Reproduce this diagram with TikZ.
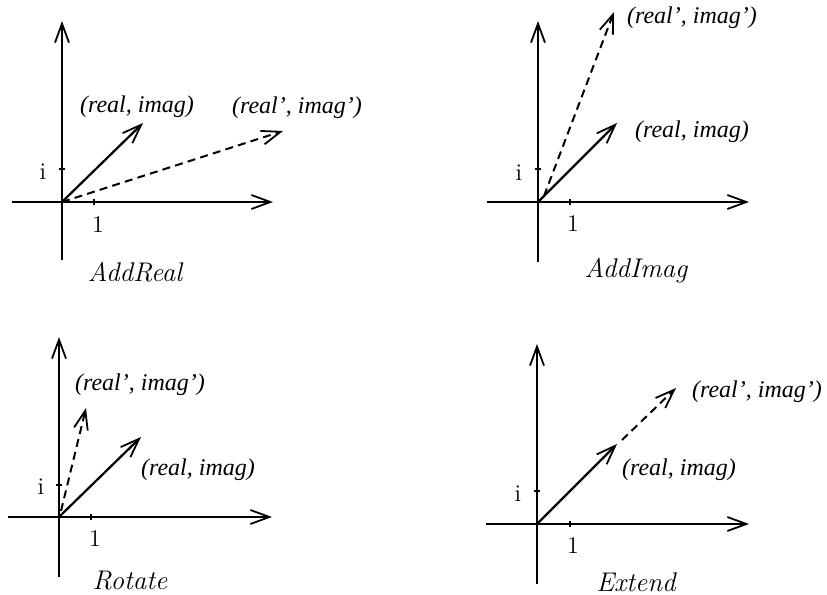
\documentclass[tikz,border=0pt]{standalone}
\usepackage{fontspec}
\newfontfamily\labfont{Liberation Serif}
\usetikzlibrary{arrows.meta}
\begin{document}
\begin{tikzpicture}[x=0.5pt,y=-0.5pt,
  tipbarb/.style={-{Straight Barb[length=9.5pt,width=7pt,line width=0.9pt]}},
  axis/.style={line width=0.95pt,tipbarb},
  vec/.style={line width=1.1pt,tipbarb},
  dvec/.style={line width=1pt,dash pattern=on 4pt off 2.6pt,tipbarb},
  tickmark/.style={line width=0.9pt},
  lab/.style={font=\labfont\itshape\fontsize{12}{14}\selectfont,inner sep=0pt},
  captext/.style={font=\itshape\fontsize{13.5}{16}\selectfont,inner sep=0pt},
  num/.style={font=\fontsize{12}{14}\selectfont,inner sep=0pt}]
\useasboundingbox (0,0) rectangle (827,595);

% ---------- Panel 1: AddReal ----------
\coordinate (o1) at (62,202);
\coordinate (x1l) at (12,202); \coordinate (x1r) at (273,202);
\coordinate (y1b) at (62,260); \coordinate (y1t) at (62,21);
\coordinate (ti1) at (62,169); \coordinate (tr1) at (94,202);
\coordinate (s1) at (143,123); \coordinate (d1) at (283,131);
\draw[axis] (x1l) -- (x1r);
\draw[axis] (y1b) -- (y1t);
\draw[tickmark] (ti1) +(-3,0) -- +(3,0);
\draw[tickmark] (tr1) +(0,-3) -- +(0,3);
\draw[vec] (o1) -- (s1);
\draw[dvec] (o1) -- (d1);
\node[lab] (l1a) at (137,107) {(real, imag)};
\node[lab] (l1b) at (297,108) {(real’, imag’)};
\node[num] (i1) at (43,172) {i};
\node[num] (n1) at (98,225) {1};
\node[captext] (c1) at (135,272) {AddReal};

% ---------- Panel 2: AddImag ----------
\coordinate (o2) at (538,202);
\coordinate (x2l) at (487,202); \coordinate (x2r) at (749,202);
\coordinate (y2b) at (538,262); \coordinate (y2t) at (538,21);
\coordinate (ti2) at (538,169); \coordinate (tr2) at (570,202);
\coordinate (s2) at (617,123); \coordinate (d2s) at (544,196); \coordinate (d2) at (614,12);
\draw[axis] (x2l) -- (x2r);
\draw[axis] (y2b) -- (y2t);
\draw[tickmark] (ti2) +(-3,0) -- +(3,0);
\draw[tickmark] (tr2) +(0,-3) -- +(0,3);
\draw[vec] (o2) -- (s2);
\draw[dvec] (d2s) -- (d2);
\node[lab] (l2a) at (692,132) {(real, imag)};
\node[lab] (l2b) at (692,18) {(real’, imag’)};
\node[num] (i2) at (519,173) {i};
\node[num] (n2) at (573,224) {1};
\node[captext] (c2) at (636,271) {AddImag};

% ---------- Panel 3: Rotate ----------
\coordinate (o3) at (59,517);
\coordinate (x3l) at (8,517); \coordinate (x3r) at (272,517);
\coordinate (y3b) at (59,577); \coordinate (y3t) at (59,337);
\coordinate (ti3) at (59,485); \coordinate (tr3) at (91,517);
\coordinate (s3) at (141,437); \coordinate (d3s) at (61,511); \coordinate (d3) at (86,408);
\draw[axis] (x3l) -- (x3r);
\draw[axis] (y3b) -- (y3t);
\draw[tickmark] (ti3) +(-3,0) -- +(3,0);
\draw[tickmark] (tr3) +(0,-3) -- +(0,3);
\draw[vec] (o3) -- (s3);
\draw[dvec] (d3s) -- (d3);
\node[lab] (l3b) at (140,385) {(real’, imag’)};
\node[lab] (l3a) at (198,470) {(real, imag)};
\node[num] (i3) at (41,487) {i};
\node[num] (n3) at (95,539) {1};
\node[captext] (c3) at (130,581) {Rotate};

% ---------- Panel 4: Extend ----------
\coordinate (o4) at (537,524);
\coordinate (x4l) at (486,524); \coordinate (x4r) at (749,524);
\coordinate (y4b) at (537,584); \coordinate (y4t) at (537,344);
\coordinate (ti4) at (537,491); \coordinate (tr4) at (570,524);
\coordinate (s4) at (617,444); \coordinate (d4s) at (622,440); \coordinate (d4) at (676,388);
\draw[axis] (x4l) -- (x4r);
\draw[axis] (y4b) -- (y4t);
\draw[tickmark] (ti4) +(-3,0) -- +(3,0);
\draw[tickmark] (tr4) +(0,-3) -- +(0,3);
\draw[vec] (o4) -- (s4);
\draw[dvec] (d4s) -- (d4);
\node[lab] (l4b) at (757,392) {(real’, imag’)};
\node[lab] (l4a) at (679,470) {(real, imag)};
\node[num] (i4) at (518,494) {i};
\node[num] (n4) at (573,546) {1};
\node[captext] (c4) at (636,582) {Extend};
\end{tikzpicture}
\end{document}
